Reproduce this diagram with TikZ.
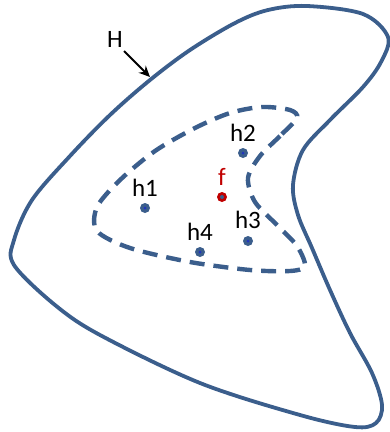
\documentclass[tikz,border=0pt]{standalone}
\usepackage{fontspec}
\setmainfont{Carlito}
\usetikzlibrary{arrows.meta}
\definecolor{hblue}{RGB}{59,94,140}
\definecolor{fred}{RGB}{192,0,0}
\tikzset{
  outerline/.style={draw=hblue, line width=3.8pt, line join=round},
  innerline/.style={draw=hblue, line width=4.4pt, dash pattern=on 15pt off 9pt},
  pt/.style={circle, fill=hblue, inner sep=0pt, minimum size=10pt},
  fpt/.style={circle, fill=fred, inner sep=0pt, minimum size=10pt},
  lbl/.style={font=\fontsize{25}{25}\selectfont, inner sep=0pt},
}
\begin{document}
\begin{tikzpicture}[x=1pt,y=-1pt]
\useasboundingbox (0,0) rectangle (390,432);
% outer set H
\draw[outerline] plot[smooth cycle, tension=0.55] coordinates {
 (307,6) (363,14) (388,37) (381,62) (363,87) (330,120) (303,150) (293,185)
 (298,215) (312,248) (330,290) (350,333) (372,373) (382,405) (376,423)
 (355,427) (300,415) (200,383) (100,335) (55,305) (14,265) (14,240)
 (32,200) (70,156) (110,115) (150,80) (190,50) (235,23) (268,10)};
% inner dashed set
\draw[innerline] plot[smooth cycle, tension=0.5] coordinates {
 (297,118) (280,136) (260,156) (248,178) (255,202) (278,226) (297,246)
 (305,266) (290,271) (250,270) (190,262) (130,248) (97,231) (97,207)
 (120,180) (155,151) (195,128) (230,113) (262,107) (290,110)};
% H label and arrow
\node[lbl] (H) at (115,39) {H};
\coordinate (Htip) at (150,77);
\draw[line width=2pt, -{Stealth[length=11pt,width=10pt]}] (124,51) -- (Htip);
% points
\node[pt] (h1p) at (145,208) {};
\node[pt] (h2p) at (243,153) {};
\node[pt] (h3p) at (248,241) {};
\node[pt] (h4p) at (200,252) {};
\node[fpt] (fp) at (222,197) {};
\foreach \n in {h1p,h2p,h3p,h4p}{\fill[blue!45!hblue] (\n) circle (1.5pt);}
\fill[hblue] (fp) circle (2pt);
% labels
\node[lbl] (h1) at (145,188) {h1};
\node[lbl] (h2) at (243,133) {h2};
\node[lbl] (h3) at (248,220) {h3};
\node[lbl] (h4) at (200,232) {h4};
\node[lbl, text=fred] (f) at (222,177) {f};
\end{tikzpicture}
\end{document}
